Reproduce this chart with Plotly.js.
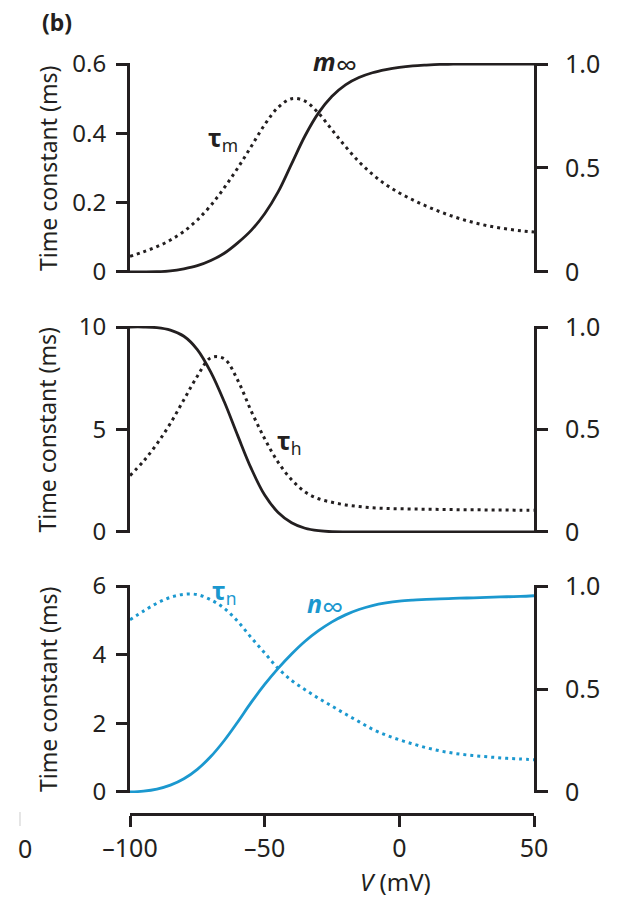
<!DOCTYPE html>
<html>
<head>
<meta charset="utf-8">
<script src="https://cdn.plot.ly/plotly-3.0.1.min.js"></script>
<style>html,body{margin:0;padding:0;background:#fff;}#chart{width:618px;height:898px;}</style>
</head>
<body>
<div id="chart"></div>
<script>
// Membrane potential (mV)
const V = [-100,-95,-90,-85,-80,-75,-70,-65,-60,-55,-50,-45,-40,-35,-30,-25,-20,-15,-10,-5,0,5,10,15,20,25,30,35,40,45,50];

// Panel 1: sodium activation
const tauM = [0.045,0.058,0.073,0.092,0.117,0.15,0.192,0.243,0.3,0.362,0.425,0.475,0.5,0.493,0.458,0.41,0.362,0.318,0.282,0.252,0.228,0.208,0.19,0.174,0.16,0.148,0.138,0.13,0.124,0.119,0.115];
const mInf = [0.0,0.0,0.001,0.005,0.015,0.03,0.055,0.09,0.14,0.2,0.28,0.385,0.52,0.655,0.765,0.845,0.9,0.935,0.958,0.973,0.984,0.991,0.995,0.998,1.0,1.0,1.0,1.0,1.0,1.0,1.0];

// Panel 2: sodium inactivation
const tauH = [2.75,3.45,4.3,5.3,6.45,7.6,8.5,8.45,7.4,5.9,4.55,3.4,2.55,1.95,1.62,1.45,1.32,1.24,1.18,1.15,1.13,1.12,1.11,1.1,1.09,1.08,1.08,1.07,1.07,1.06,1.06];
const hInf = [1.0,1.0,0.997,0.985,0.955,0.89,0.78,0.635,0.47,0.31,0.18,0.095,0.045,0.018,0.006,0.001,0,0,0,0,0,0,0,0,0,0,0,0,0,0,0];

// Panel 3: potassium activation
const tauN = [5.02,5.27,5.5,5.67,5.76,5.75,5.6,5.35,4.97,4.5,4.05,3.6,3.25,2.98,2.73,2.5,2.27,2.05,1.83,1.66,1.52,1.4,1.29,1.2,1.13,1.08,1.04,1.01,0.98,0.96,0.94];
const nInf = [0,0.004,0.014,0.033,0.064,0.11,0.172,0.25,0.34,0.435,0.522,0.6,0.67,0.732,0.783,0.826,0.86,0.886,0.905,0.918,0.927,0.932,0.935,0.938,0.94,0.942,0.944,0.946,0.948,0.95,0.953];

const xTickVals = [-100,-50,0,50];
const xTickText = ['\u2013100','\u201350','0','50'];
const y1TickVals = [0,0.2,0.4,0.6];
const y1TickText = ['0','0.2','0.4','0.6'];
const y2TickVals = [0,5,10];
const y2TickText = ['0','5','10'];
const y3TickVals = [0,2,4,6];
const y3TickText = ['0','2','4','6'];
const rTickVals = [0,0.5,1];
const rTickText = ['0','0.5','1.0'];

const K = '#231f20';
const B = '#1b98cf';
const FONT = 'Noto Sans, Open Sans, sans-serif';

function tr(y, yaxis, color, dash){
  return {x: V, y: y, yaxis: yaxis, type: 'scatter', mode: 'lines', hoverinfo: 'skip',
          line: {color: color, width: dash ? 3 : 2.8, dash: dash ? '3px,4px' : 'solid', shape: 'spline', smoothing: 1}};
}

const data = [
  tr(tauM, 'y', K, true), tr(mInf, 'y2', K, false),
  tr(tauH, 'y3', K, true), tr(hInf, 'y4', K, false),
  tr(tauN, 'y5', B, true), tr(nInf, 'y6', B, false)
];

const common = {showgrid: false, zeroline: false, showline: true, linecolor: K, linewidth: 3,
  ticks: 'outside', ticklen: 11, tickwidth: 3, tickcolor: K, tickmode: 'array',
  tickfont: {family: FONT, size: 25, color: K}, fixedrange: true};

function leftAx(dom, range, tv, tt){ return Object.assign({}, common, {domain: dom, range: range, anchor: 'x', side: 'left', tickvals: tv, ticktext: tt, ticklabelstandoff: 5, tickfont: {family: FONT, size: 24, color: K}}); }
function rightAx(ov, range){ return Object.assign({}, common, {range: range, anchor: 'x', side: 'right', overlaying: ov, tickvals: rTickVals, ticktext: rTickText, ticklabelstandoff: 12}); }

const d1 = [0.7204, 1.0], d2 = [0.3742, 0.6498], d3 = [0.02796, 0.3049];

const LS = 25;
const ann = (o) => Object.assign({showarrow: false, font: {family: FONT, size: LS, color: K}}, o);
const TF = {family: FONT, size: 23, color: K};
const TX = -0.2030;
const INF = '<sub><span style="font-size:30px">∞</span></sub>';

const layout = {
  width: 618, height: 898,
  margin: {l: 130, r: 84, t: 63, b: 84},
  paper_bgcolor: '#fff', plot_bgcolor: 'rgba(0,0,0,0)',
  showlegend: false,
  font: {family: FONT, color: K},
  xaxis: Object.assign({}, common, {range: [-100, 50], domain: [0, 1], anchor: 'free', position: 0,
     tickvals: xTickVals, ticktext: xTickText}),
  yaxis: leftAx(d1, [-0.003, 0.603], y1TickVals, y1TickText),
  yaxis2: rightAx('y', [-0.005, 1.005]),
  yaxis3: leftAx(d2, [-0.05, 10.05], y2TickVals, y2TickText),
  yaxis4: rightAx('y3', [-0.005, 1.005]),
  yaxis5: leftAx(d3, [-0.03, 6.03], y3TickVals, y3TickText),
  yaxis6: rightAx('y5', [-0.005, 1.005]),
  annotations: [
    ann({text: '<b>(b)</b>', xref: 'paper', yref: 'paper', x: -0.1807, y: 1.0546, xanchor: 'center', yanchor: 'middle', font: {family: FONT, size: 23, color: K}}),
    ann({text: 'Time constant (ms)', xref: 'paper', yref: 'y domain', x: TX, y: 0.5, textangle: -90, xanchor: 'center', yanchor: 'middle', font: TF}),
    ann({text: 'Time constant (ms)', xref: 'paper', yref: 'y3 domain', x: TX, y: 0.5, textangle: -90, xanchor: 'center', yanchor: 'middle', font: TF}),
    ann({text: 'Time constant (ms)', xref: 'paper', yref: 'y5 domain', x: TX, y: 0.5, textangle: -90, xanchor: 'center', yanchor: 'middle', font: TF}),
    ann({text: '<i>V</i> (mV)', xref: 'paper', yref: 'paper', x: 0.656, y: -0.0895, xanchor: 'center', yanchor: 'middle', font: {family: FONT, size: 24, color: K}}),
    ann({text: '0', xref: 'paper', yref: 'paper', x: -0.26, y: -0.0455, xanchor: 'center', yanchor: 'middle', font: {family: FONT, size: 25, color: K}}),
    ann({text: '<b>τ</b><sub>m</sub>', xref: 'x', yref: 'y', x: -65.5, y: 0.386, xanchor: 'center', yanchor: 'middle'}),
    ann({text: '<b><i>m</i></b>' + INF, xref: 'x', yref: 'y2', x: -24, y: 1.0, xanchor: 'center', yanchor: 'middle'}),
    ann({text: '<b><i>h</i></b>' + INF, xref: 'x', yref: 'y4', x: -72, y: 1.014, xanchor: 'center', yanchor: 'middle'}),
    ann({text: '<b>τ</b><sub>h</sub>', xref: 'x', yref: 'y3', x: -41, y: 4.4, xanchor: 'center', yanchor: 'middle'}),
    ann({text: '<b>τ</b><sub>n</sub>', xref: 'x', yref: 'y5', x: -65.1, y: 5.83, xanchor: 'center', yanchor: 'middle', font: {family: FONT, size: LS, color: B}}),
    ann({text: '<b><i>n</i></b>' + INF, xref: 'x', yref: 'y6', x: -27.5, y: 0.9, xanchor: 'center', yanchor: 'middle', font: {family: FONT, size: LS, color: B}})
  ],
  shapes: [
    {type: 'line', xref: 'paper', yref: 'paper', x0: -0.2723, x1: -0.2723, y0: 0.00266, y1: -0.016, line: {color: '#cccccc', width: 1}}
  ]
};

Plotly.newPlot('chart', data, layout, {staticPlot: true, displayModeBar: false});
</script>
</body>
</html>
